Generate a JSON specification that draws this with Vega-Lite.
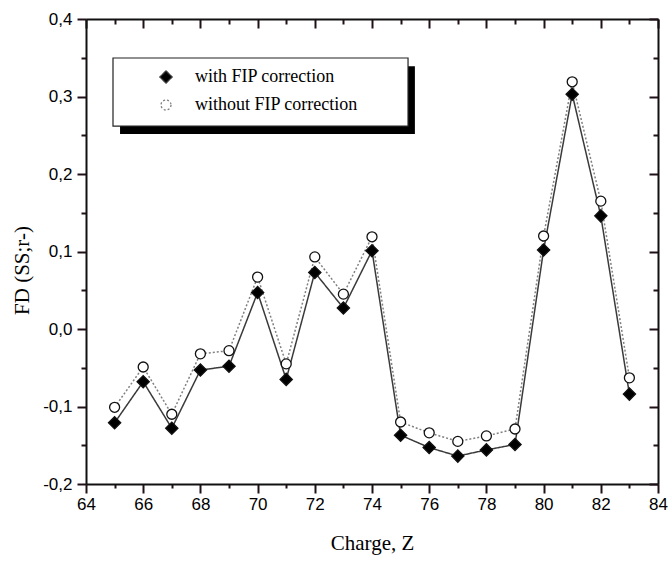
{
  "$schema": "https://vega.github.io/schema/vega-lite/v6.json",
  "width": 572,
  "height": 465,
  "autosize": "none",
  "padding": {"left": 86, "top": 19, "right": 13, "bottom": 78},
  "background": "white",
  "config": {
    "view": {"stroke": null},
    "axis": {"grid": false, "domainColor": "#111111", "domainWidth": 2, "tickWidth": 2, "tickColor": "#201018", "labelColor": "black", "titleColor": "black", "labelFont": "Liberation Sans", "labelFontSize": 17, "titleFont": "Liberation Serif", "titleFontSize": 21, "titleFontWeight": "normal"}
  },
  "data": {"values": [
    {"Z": 65, "FD": -0.121, "series": "with FIP correction"},
    {"Z": 66, "FD": -0.068, "series": "with FIP correction"},
    {"Z": 67, "FD": -0.128, "series": "with FIP correction"},
    {"Z": 68, "FD": -0.053, "series": "with FIP correction"},
    {"Z": 69, "FD": -0.048, "series": "with FIP correction"},
    {"Z": 70, "FD": 0.047, "series": "with FIP correction"},
    {"Z": 71, "FD": -0.065, "series": "with FIP correction"},
    {"Z": 72, "FD": 0.073, "series": "with FIP correction"},
    {"Z": 73, "FD": 0.027, "series": "with FIP correction"},
    {"Z": 74, "FD": 0.101, "series": "with FIP correction"},
    {"Z": 75, "FD": -0.137, "series": "with FIP correction"},
    {"Z": 76, "FD": -0.153, "series": "with FIP correction"},
    {"Z": 77, "FD": -0.164, "series": "with FIP correction"},
    {"Z": 78, "FD": -0.156, "series": "with FIP correction"},
    {"Z": 79, "FD": -0.149, "series": "with FIP correction"},
    {"Z": 80, "FD": 0.102, "series": "with FIP correction"},
    {"Z": 81, "FD": 0.303, "series": "with FIP correction"},
    {"Z": 82, "FD": 0.146, "series": "with FIP correction"},
    {"Z": 83, "FD": -0.084, "series": "with FIP correction"},
    {"Z": 65, "FD": -0.101, "series": "without FIP correction"},
    {"Z": 66, "FD": -0.049, "series": "without FIP correction"},
    {"Z": 67, "FD": -0.110, "series": "without FIP correction"},
    {"Z": 68, "FD": -0.032, "series": "without FIP correction"},
    {"Z": 69, "FD": -0.028, "series": "without FIP correction"},
    {"Z": 70, "FD": 0.067, "series": "without FIP correction"},
    {"Z": 71, "FD": -0.045, "series": "without FIP correction"},
    {"Z": 72, "FD": 0.093, "series": "without FIP correction"},
    {"Z": 73, "FD": 0.045, "series": "without FIP correction"},
    {"Z": 74, "FD": 0.119, "series": "without FIP correction"},
    {"Z": 75, "FD": -0.120, "series": "without FIP correction"},
    {"Z": 76, "FD": -0.134, "series": "without FIP correction"},
    {"Z": 77, "FD": -0.145, "series": "without FIP correction"},
    {"Z": 78, "FD": -0.138, "series": "without FIP correction"},
    {"Z": 79, "FD": -0.129, "series": "without FIP correction"},
    {"Z": 80, "FD": 0.120, "series": "without FIP correction"},
    {"Z": 81, "FD": 0.319, "series": "without FIP correction"},
    {"Z": 82, "FD": 0.165, "series": "without FIP correction"},
    {"Z": 83, "FD": -0.063, "series": "without FIP correction"}
  ]},
  "resolve": {"axis": {"x": "independent", "y": "independent"}},
  "layer": [
    {
      "data": {"values": [{}]},
      "mark": {"type": "rect", "fill": "black"},
      "encoding": {
        "x": {"datum": 65.19, "type": "quantitative", "scale": {"domain": [64, 84], "nice": false, "zero": false},
          "axis": {"orient": "bottom", "values": [65,67,69,71,73,75,77,79,81,83], "tickSize": 4, "labels": false, "domain": false, "title": null}},
        "x2": {"datum": 75.5},
        "y": {"datum": 0.339, "type": "quantitative", "scale": {"domain": [-0.2, 0.4], "nice": false, "zero": false},
          "axis": {"orient": "left", "values": [-0.15,-0.05,0.05,0.15,0.25,0.35], "tickSize": 5, "labels": false, "domain": false, "title": null}},
        "y2": {"datum": 0.2516}
      }
    },
    {
      "data": {"values": [{}]},
      "mark": {"type": "rect", "fill": "white", "stroke": "#222", "strokeWidth": 1.2},
      "encoding": {
        "x": {"datum": 64.944, "type": "quantitative",
          "axis": {"orient": "top", "values": [65,67,69,71,73,75,77,79,81,83], "tickSize": -5, "labels": false, "domain": false, "title": null}},
        "x2": {"datum": 75.26},
        "y": {"datum": 0.3497, "type": "quantitative",
          "axis": {"orient": "right", "values": [-0.15,-0.05,0.05,0.15,0.25,0.35], "tickSize": -5, "labels": false, "domain": false, "title": null}},
        "y2": {"datum": 0.2619}
      }
    },
    {
      "mark": {"type": "line", "strokeWidth": 1.5},
      "encoding": {
        "x": {"field": "Z", "type": "quantitative", "title": "Charge, Z",
          "axis": {"orient": "bottom", "values": [64,66,68,70,72,74,76,78,80,82,84], "tickSize": 9,
            "labelPadding": 3, "titlePadding": 20, "labelFlush": false}},
        "y": {"field": "FD", "type": "quantitative", "title": "FD (SS;r-)",
          "axis": {"orient": "left", "values": [-0.2,-0.1,0,0.1,0.2,0.3,0.4], "tickSize": 9,
            "labelExpr": "replace(replace(format(datum.value, '.1f'), '.', ','), '\u2212', '-')",
            "labelPadding": 5, "titleY": 251, "titleX": -54, "titleBaseline": "bottom", "labelFlush": false}},
        "stroke": {"field": "series", "type": "nominal", "scale": {"domain": ["with FIP correction", "without FIP correction"], "range": ["#3a3a3a", "#808080"]},
          "legend": {"orient": "none", "legendX": 71, "legendY": 49, "title": null, "padding": 0, "symbolSize": 150, "symbolStrokeWidth": 1.3, "rowPadding": 10, "labelOffset": 20,
            "labelFont": "Liberation Serif", "labelFontSize": 18, "labelColor": "black", "labelLimit": 400}},
        "strokeDash": {"field": "series", "type": "nominal", "legend": null, "scale": {"domain": ["with FIP correction", "without FIP correction"], "range": [[1, 0], [2, 2]]}}
      }
    },
    {
      "mark": {"type": "point", "filled": false, "stroke": "#111", "strokeWidth": 1.3, "opacity": 1},
      "encoding": {
        "x": {"field": "Z", "type": "quantitative",
          "axis": {"orient": "top", "values": [64,66,68,70,72,74,76,78,80,82,84], "tickSize": -9, "labels": false, "title": null}},
        "y": {"field": "FD", "type": "quantitative",
          "axis": {"orient": "right", "values": [-0.2,-0.1,0,0.1,0.2,0.3,0.4], "tickSize": -9, "labels": false, "title": null}},
        "shape": {"field": "series", "type": "nominal", "legend": null,
          "scale": {"domain": ["with FIP correction", "without FIP correction"], "range": ["diamond", "circle"]}},
        "fill": {"field": "series", "type": "nominal", "legend": null, "scale": {"domain": ["with FIP correction", "without FIP correction"], "range": ["black", "white"]}},
        "size": {"field": "series", "type": "ordinal", "legend": null, "scale": {"domain": ["with FIP correction", "without FIP correction"], "range": [150, 100]}}
      }
    }
  ]
}
